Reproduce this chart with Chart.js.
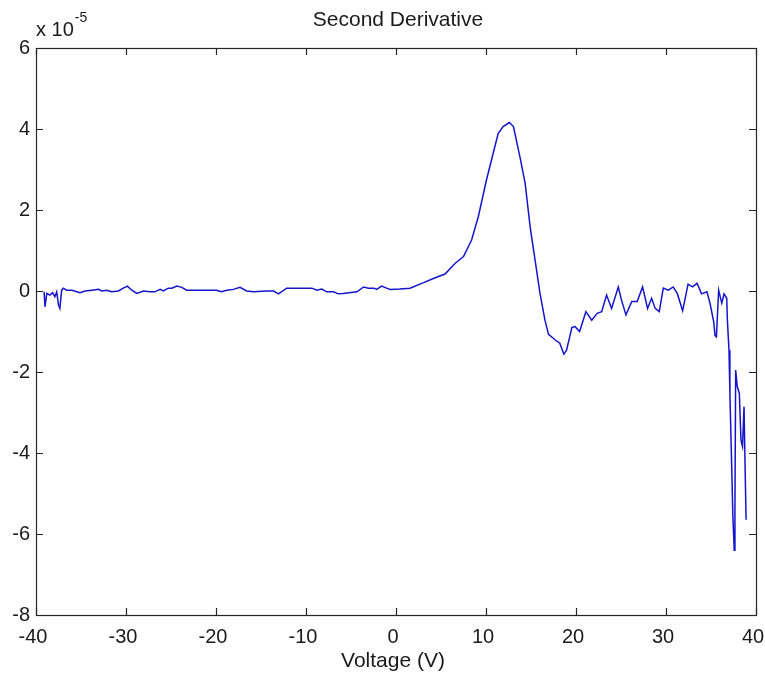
<!DOCTYPE html>
<html>
<head>
<meta charset="utf-8">
<script src="https://cdn.jsdelivr.net/npm/chart.js@4.4.1/dist/chart.umd.min.js"></script>
<style>
  html, body { margin: 0; padding: 0; background: #ffffff; }
  #wrap { width: 765px; height: 677px; position: relative; }
</style>
</head>
<body>
<div id="wrap"><canvas id="c" width="765" height="677"></canvas></div>
<script>
// Voltage (V)
const voltage = [
  -39.1, -39.0, -38.8, -38.45, -38.15, -37.9, -37.7, -37.5, -37.35, -37.15,
  -36.95, -36.6, -36.0, -35.1, -34.55, -33.8, -33.05, -32.7, -32.15, -31.6,
  -30.85, -30.3, -29.85, -29.35, -28.8, -28.05, -27.35, -26.8, -26.2, -25.85,
  -25.3, -24.9, -24.35, -23.8, -23.25, -19.95, -19.4, -18.8, -18.07, -17.33,
  -16.6, -15.85, -14.35, -13.6, -13.05, -12.15, -9.35, -8.8, -8.25, -7.7,
  -6.95, -6.4, -5.85, -4.35, -3.6, -3.05, -2.45, -2.15, -1.6, -1.05,
  -0.65, 0.4, 1.55, 3.0, 4.15, 5.45, 6.55, 7.5, 8.4, 9.15,
  10.05, 10.8, 11.35, 11.9, 12.6, 13.05, 13.8, 14.35, 14.9, 15.45,
  16.0, 16.55, 16.95, 17.7, 18.2, 18.65, 18.95, 19.55, 19.9, 20.4,
  21.1, 21.75, 22.35, 22.85, 23.4, 23.95, 24.7, 25.05, 25.55, 26.2,
  26.8, 27.4, 27.95, 28.4, 28.8, 29.25, 29.7, 30.25, 30.8, 31.25,
  31.85, 32.45, 32.95, 33.45, 33.95, 34.55, 34.9, 35.3, 35.45, 35.6,
  35.85, 36.2, 36.45, 36.75, 36.82, 37.0, 37.1, 37.3, 37.42, 37.58,
  37.66, 37.74, 37.92, 38.15, 38.33, 38.5, 38.67, 38.8, 38.9
];
// Second derivative, in units of 1e-5
const secondDeriv = [
  -0.02, -0.39, -0.06, -0.1, -0.04, -0.14, -0.02, -0.35, -0.43, 0.02,
  0.07, 0.02, 0.02, -0.04, 0.0, 0.02, 0.04, 0.0, 0.02, -0.02,
  0.0, 0.07, 0.12, 0.02, -0.06, 0.0, -0.02, -0.02, 0.04, 0.0,
  0.07, 0.07, 0.12, 0.09, 0.02, 0.02, -0.02, 0.02, 0.04, 0.09,
  0.0, -0.02, 0.0, 0.0, -0.07, 0.07, 0.07, 0.02, 0.05, -0.02,
  -0.02, -0.07, -0.06, -0.02, 0.1, 0.07, 0.07, 0.04, 0.12, 0.07,
  0.04, 0.05, 0.07, 0.2, 0.31, 0.42, 0.68, 0.85, 1.26, 1.84,
  2.74, 3.4, 3.89, 4.06, 4.16, 4.06, 3.28, 2.66, 1.59, 0.77,
  -0.06, -0.72, -1.07, -1.21, -1.29, -1.56, -1.46, -0.9, -0.88, -1.0,
  -0.51, -0.72, -0.55, -0.51, -0.1, -0.43, 0.1, -0.22, -0.59, -0.26,
  -0.26, 0.1, -0.43, -0.18, -0.43, -0.51, 0.07, 0.02, 0.1, -0.06,
  -0.49, 0.17, 0.1, 0.19, -0.07, -0.02, -0.31, -0.76, -1.1, -1.13,
  0.02, -0.3, -0.07, -0.18, -0.72, -1.46, -2.53, -4.34, -5.49, -6.4,
  -5.33, -1.95, -2.36, -2.53, -3.68, -3.84, -2.86, -4.5, -5.65
];
const xTicks = [-40, -30, -20, -10, 0, 10, 20, 30, 40];
const yTicks = [-8, -6, -4, -2, 0, 2, 4, 6];
const titleText = 'Second Derivative';
const xLabel = 'Voltage (V)';
const exponentBase = 'x 10';
const exponentPower = '-5';

const points = voltage.map((v, i) => ({ x: v, y: secondDeriv[i] }));
const FONT = 'Liberation Sans, Arial, sans-serif';

const matlabBox = {
  id: 'matlabBox',
  afterDraw(chart) {
    const ctx = chart.ctx;
    const a = chart.chartArea;
    const xs = chart.scales.x, ys = chart.scales.y;
    ctx.save();
    ctx.strokeStyle = '#262626';
    ctx.lineWidth = 1.2;
    ctx.strokeRect(Math.round(a.left) + 0.5, Math.round(a.top) + 0.5,
                   Math.round(a.right - a.left), Math.round(a.bottom - a.top));
    const tl = 7;
    ctx.beginPath();
    xTicks.forEach(t => {
      const px = Math.round(xs.getPixelForValue(t)) + 0.5;
      ctx.moveTo(px, a.bottom); ctx.lineTo(px, a.bottom - tl);
      ctx.moveTo(px, a.top); ctx.lineTo(px, a.top + tl);
    });
    yTicks.forEach(t => {
      const py = Math.round(ys.getPixelForValue(t)) + 0.5;
      ctx.moveTo(a.left, py); ctx.lineTo(a.left + tl, py);
      ctx.moveTo(a.right, py); ctx.lineTo(a.right - tl, py);
    });
    ctx.stroke();
    // title
    ctx.fillStyle = '#1a1a1a';
    ctx.font = '21px ' + FONT;
    ctx.textAlign = 'center';
    ctx.textBaseline = 'middle';
    ctx.fillText(titleText, 398, 20);
    // x label
    ctx.fillText(xLabel, 393, 661);
    // exponent
    ctx.textAlign = 'left';
    ctx.textBaseline = 'alphabetic';
    ctx.font = '20px ' + FONT;
    ctx.fillText(exponentBase, 36, 36);
    const w = ctx.measureText(exponentBase).width;
    ctx.font = '14px ' + FONT;
    ctx.fillText(exponentPower, 36 + w + 1, 22);
    ctx.restore();
  }
};

new Chart(document.getElementById('c'), {
  type: 'scatter',
  data: {
    datasets: [{
      data: points,
      showLine: true,
      borderColor: 'rgb(20,20,205)',
      borderWidth: 1.5,
      pointRadius: 0,
      fill: false,
      tension: 0
    }]
  },
  options: {
    responsive: false,
    animation: false,
    layout: { padding: { top: 48, right: 9, left: 0, bottom: 0 } },
    plugins: { legend: { display: false }, tooltip: { enabled: false }, title: { display: false } },
    scales: {
      x: {
        type: 'linear', min: -40, max: 40,
        afterBuildTicks: s => { s.ticks = xTicks.map(v => ({ value: v })); },
        afterFit: s => { s.height = 62; s.paddingLeft = 0; s.paddingRight = 0; },
        grid: { display: false, drawTicks: false },
        border: { display: false },
        ticks: { color: '#1a1a1a', font: { family: FONT, size: 20 }, padding: 10, maxRotation: 0, autoSkip: false, labelOffset: -3 }
      },
      y: {
        type: 'linear', min: -8, max: 6,
        afterBuildTicks: s => { s.ticks = yTicks.map(v => ({ value: v })); },
        afterFit: s => { s.width = 36; s.paddingTop = 0; s.paddingBottom = 0; },
        grid: { display: false, drawTicks: false },
        border: { display: false },
        ticks: { color: '#1a1a1a', font: { family: FONT, size: 20 }, padding: 6, autoSkip: false }
      }
    }
  },
  plugins: [matlabBox]
});
</script>
</body>
</html>
